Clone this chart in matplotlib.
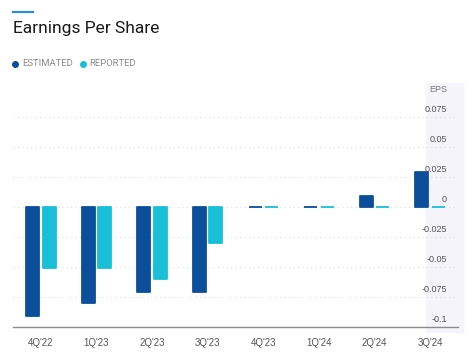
import matplotlib.pyplot as plt
import numpy as np
from matplotlib.lines import Line2D
from matplotlib.patches import Rectangle

# Data
quarters = ["4Q'22", "1Q'23", "2Q'23", "3Q'23", "4Q'23", "1Q'24", "2Q'24", "3Q'24"]
estimated = [-0.091, -0.080, -0.071, -0.071, 0.0, 0.0, 0.009, 0.029]
reported = [-0.051, -0.051, -0.060, -0.030, 0.0, 0.0, 0.0, 0.0]
y_ticks = [0.075, 0.05, 0.025, 0, -0.025, -0.05, -0.075, -0.1]
y_tick_labels = ['0.075', '0.05', '0.025', '0', '-0.025', '-0.05', '-0.075', '-0.1']

dark_blue = '#0b4f9b'
light_blue = '#19bfd7'

W, H = 474, 356
fig = plt.figure(figsize=(W / 100, H / 100), dpi=100)

# light shaded panel behind the y labels
fig.patches.append(Rectangle((426 / W, 1 - 332 / H), 37 / W, 249 / H,
                             transform=fig.transFigure, color='#f4f4fa',
                             zorder=-1))

ax = fig.add_axes([13 / W, 1 - 327 / H, 445 / W, 240 / H])
ax.set_zorder(1)
ax.set_facecolor('none')

x = np.arange(len(quarters))
bw = 0.235
off = 0.148
ax.bar(x - off, estimated, bw, color=dark_blue, edgecolor=dark_blue,
       linewidth=1.3, joinstyle='round', zorder=3)
ax.bar(x + off, reported, bw, color=light_blue, edgecolor=light_blue,
       linewidth=1.3, joinstyle='round', zorder=3)

ax.set_xlim(-0.5, 7.5)
ax.set_ylim(-0.1, 0.1)

# dotted grid
for v in y_ticks[:-1]:
    ax.axhline(v, color='#dcdcdc', linestyle=(0, (1, 3)), linewidth=0.8, zorder=1)

for s in ['top', 'right', 'left']:
    ax.spines[s].set_visible(False)
ax.spines['bottom'].set_color('#8c8c8c')
ax.spines['bottom'].set_linewidth(1.0)

ax.set_yticks([])
ax.set_xticks(x)
ax.set_xticklabels(quarters, fontsize=7, color='#555555', family='Liberation Sans')
ax.tick_params(axis='x', length=0, pad=8)

# y labels sit just above their grid lines on the right
for v, lab in zip(y_ticks, y_tick_labels):
    ax.annotate(lab, xy=(1, v), xycoords=('axes fraction', 'data'),
                xytext=(-8, 2.5), textcoords='offset points',
                ha='right', va='bottom', fontsize=6.5, color='#555555',
                family='Liberation Sans', annotation_clip=False)
ax.annotate('EPS', xy=(1, 0.1), xycoords=('axes fraction', 'data'),
            xytext=(-8, -2), textcoords='offset points',
            ha='right', va='center', fontsize=6.5, color='#777777',
            family='Liberation Sans', annotation_clip=False)

# title with accent bar
fig.add_artist(Line2D([13 / W, 33 / W], [1 - 12 / H, 1 - 12 / H],
                      transform=fig.transFigure, color='#2b8fcb', linewidth=1.6))
fig.text(13 / W, 1 - 33 / H, 'Earnings Per Share', fontsize=12.5,
         family='Roboto', color='#1a1a1a', va='baseline', ha='left')

# legend
fig.add_artist(Line2D([15 / W], [1 - 63.5 / H], marker='o', markersize=4,
                      color=dark_blue, linestyle='none', transform=fig.transFigure))
fig.text(22 / W, 1 - 63.5 / H, 'ESTIMATED', fontsize=6.8, family='Roboto',
         color='#8a8a8a', va='center', ha='left')
fig.add_artist(Line2D([83 / W], [1 - 63.5 / H], marker='o', markersize=4,
                      color=light_blue, linestyle='none', transform=fig.transFigure))
fig.text(89 / W, 1 - 63.5 / H, 'REPORTED', fontsize=6.8, family='Roboto',
         color='#8a8a8a', va='center', ha='left')

fig.savefig('out.png', dpi=100)
